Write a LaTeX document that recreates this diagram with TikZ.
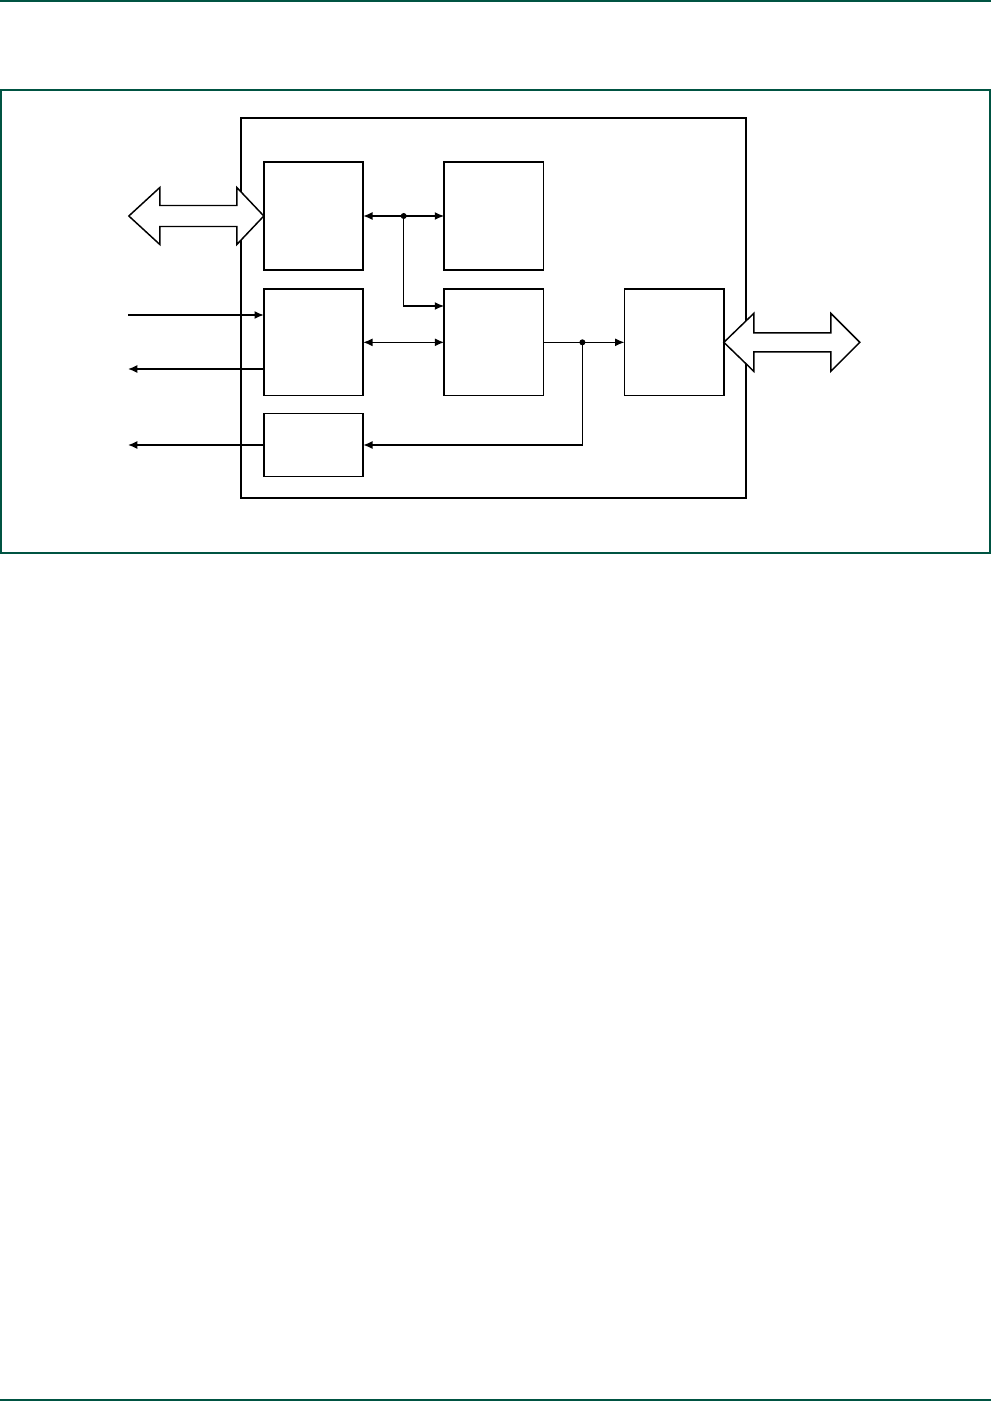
\documentclass[tikz,border=0pt]{standalone}
\usepackage{xcolor}
\usepackage{tikz}
\usetikzlibrary{positioning,calc,arrows.meta}
\definecolor{framegreen}{RGB}{0,84,66}
\begin{document}
\begin{tikzpicture}[x=0.75pt, y=-0.75pt, node distance=60.75pt]
      \tikzstyle{block} = [rectangle, draw, line width=1.2pt, minimum width=74.5pt, minimum height=80pt, inner sep=0pt, outer sep=0pt]
      \tikzstyle{arrow} = [line width=1.1pt, -{Latex[length=7pt, width=6pt]}]
      \tikzstyle{bus} = [line width=1.1pt, line join=miter, fill=white]
      \tikzstyle{dot} = [circle, fill, inner sep=0pt, minimum size=4.5pt]
      \useasboundingbox (0,0) rectangle (991,1401);
      % page rules and figure frame
      \draw[framegreen, line width=1.4pt] (0,1) -- (991,1);
      \draw[framegreen, line width=1.4pt] (0,1400) -- (991,1400);
      \draw[framegreen, line width=1.2pt] (1,90) rectangle (990,553);
      % outer box
      \draw[line width=1.2pt] (241,118) rectangle (746,498);
      % blocks
      \node[block, minimum height=81pt] (A) at (313.5,216) {};
      \node[block, minimum height=81pt, right=of A] (B) {};
      \node[block, below=14.25pt of A] (C) {};
      \node[block, below=14.25pt of B] (D) {};
      \node[block, right=of D] (E) {};
      \node[block, minimum height=47pt, below=13.5pt of C] (F) {};
      % buses
      \draw[bus, shift={(A.west)}] (0,0) -- (-27,-28.5) -- (-27,-10.5) -- (-104,-10.5) -- (-104,-28.5) -- (-135,0) -- (-104,28.5) -- (-104,10.5) -- (-27,10.5) -- (-27,28.5) -- cycle;
      \draw[bus, shift={(E.east)}] (0,0) -- (30,-29) -- (30,-9.5) -- (107,-9.5) -- (107,-29) -- (136,0) -- (107,29) -- (107,9.5) -- (30,9.5) -- (30,29) -- cycle;
      % junctions
      \node[dot] (j1) at ($(A.east)!0.5!(B.west)$) {};
      \node[dot] (j2) at ($(D.east)!0.48!(E.west)$) {};
      \coordinate (inL) at (128,315);
      \coordinate (outL) at (128,369);
      \coordinate (outF) at (128,445);
      % connectors
      \draw[arrow, {Latex[length=7pt, width=6pt]}-{Latex[length=7pt, width=6pt]}] (A) -- (B);
      \draw[arrow] (j1.center) |- ($(D.north west)+(0,17)$);
      \draw[arrow, {Latex[length=7pt, width=6pt]}-{Latex[length=7pt, width=6pt]}] (C) -- (D);
      \draw[arrow] (D) -- (E);
      \draw[arrow] (j2.center) |- (F.east);
      \draw[arrow] (inL) -- (inL -| C.west);
      \draw[arrow] (outL -| C.west) -- (outL);
      \draw[arrow] (F.west) -- (outF);
    \end{tikzpicture}
\end{document}
